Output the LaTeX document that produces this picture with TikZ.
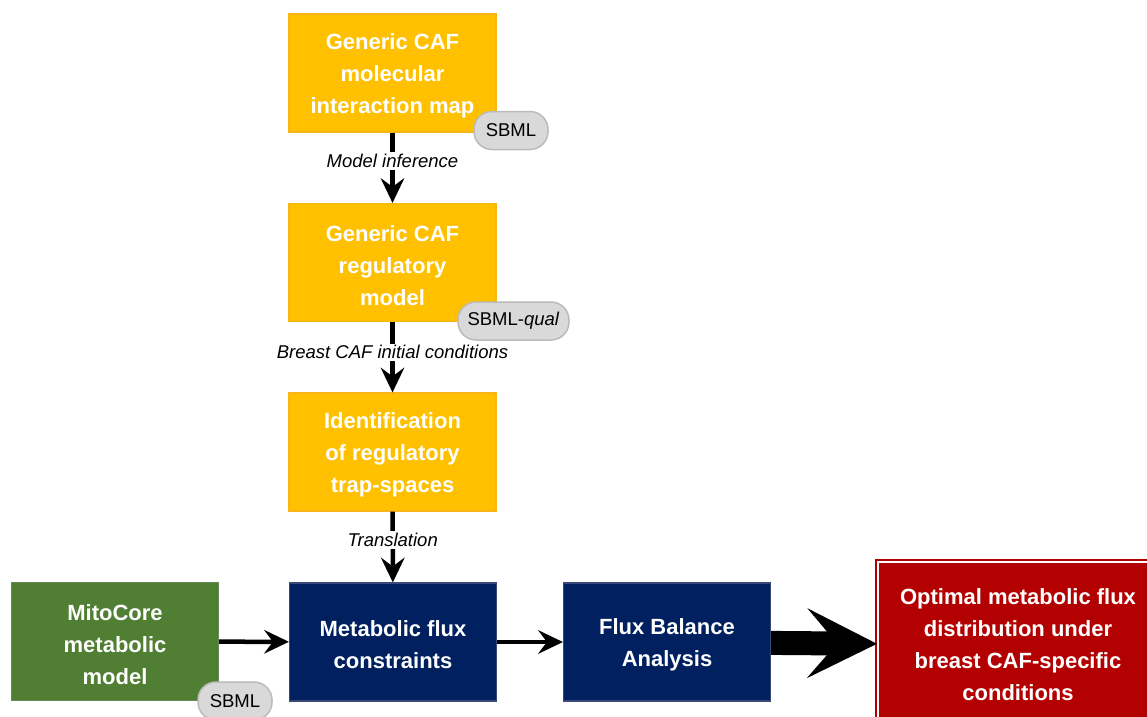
\documentclass[tikz,border=0pt]{standalone}
\usepackage{fontspec}
\setmainfont{Liberation Sans}
\usetikzlibrary{arrows.meta}
\definecolor{orgfill}{HTML}{FFC000}
\definecolor{orgdraw}{HTML}{F9B418}
\definecolor{bluefill}{HTML}{002060}
\definecolor{bluedraw}{HTML}{3A4A78}
\definecolor{greenfill}{HTML}{507E32}
\definecolor{greendraw}{HTML}{66895A}
\definecolor{redfill}{HTML}{B30000}
\definecolor{badgefill}{HTML}{D9D9D9}
\definecolor{badgedraw}{HTML}{BBBBBB}
\begin{document}
\begin{tikzpicture}[x=1pt,y=-1pt,
  boxtext/.style={align=center, text=white, font=\bfseries\fontsize{22}{32}\selectfont, inner sep=0pt},
  box/.style={rectangle, minimum width=207pt, minimum height=118pt, inner sep=0pt, line width=1.2pt,
    label={[boxtext, yshift=-3pt]center:#1}},
  orangebox/.style={box=#1, fill=orgfill, draw=orgdraw},
  bluebox/.style={box=#1, fill=bluefill, draw=bluedraw},
  greenbox/.style={box=#1, fill=greenfill, draw=greendraw},
  redbox/.style={rectangle, boxtext, minimum width=280pt, minimum height=166pt, fill=redfill, draw=redfill,
    line width=2pt, double=white, double distance=2.5pt},
  badge/.style={rectangle, rounded corners=18pt, fill=badgefill, draw=badgedraw, line width=1.5pt,
    minimum height=38pt, inner xsep=0pt, font=\fontsize{18.5}{20}\selectfont, text=black},
  flowlabel/.style={fill=white, inner sep=2pt, font=\itshape\fontsize{18.5}{20}\selectfont, text=black},
  thinarrow/.style={line width=4.5pt, -{Stealth[length=25pt,width=24pt,inset=9pt,line width=0pt]}},
  fatarrow/.style={line width=24pt, -{Stealth[length=70pt,width=70pt,inset=30pt,line width=0pt]}}
]
\useasboundingbox (0,0) rectangle (1147,716);

\node[orangebox={Generic CAF\\molecular\\interaction map}] (map) at (392.5,73) {};
\node[orangebox={Generic CAF\\regulatory\\model}] (reg) at (392.5,262.5) {};
\node[orangebox={Identification\\of regulatory\\trap-spaces}] (trap) at (392.5,452) {};
\node[bluebox={Metabolic flux\\constraints}] (cons) at (393,642) {};
\node[bluebox={Flux Balance\\Analysis}] (fba) at (667,642) {};
\node[greenbox={MitoCore\\metabolic\\model}] (mito) at (115,641.5) {};
\node[redbox] (opt) at (1018,645) {Optimal metabolic flux\\distribution under\\breast CAF-specific\\conditions};

\draw[thinarrow] (map) -- node[flowlabel, pos=0.4] {Model inference} (reg);
\draw[thinarrow] (reg) -- node[flowlabel, pos=0.43] {Breast CAF initial conditions} (trap);
\draw[thinarrow] (trap) -- node[flowlabel, pos=0.4] {Translation} (cons);
\draw[thinarrow] (mito) -- (cons);
\draw[thinarrow] (cons) -- (fba);
\draw[fatarrow] (fba) -- (opt);

\node[badge, minimum width=74pt] (b1) at (511,130.5) {SBML};
\node[badge, minimum width=111pt] (b2) at (513.5,321) {SBML-\textit{qual}};
\node[badge, minimum width=74pt] (b3) at (235,701) {SBML};
\end{tikzpicture}
\end{document}
